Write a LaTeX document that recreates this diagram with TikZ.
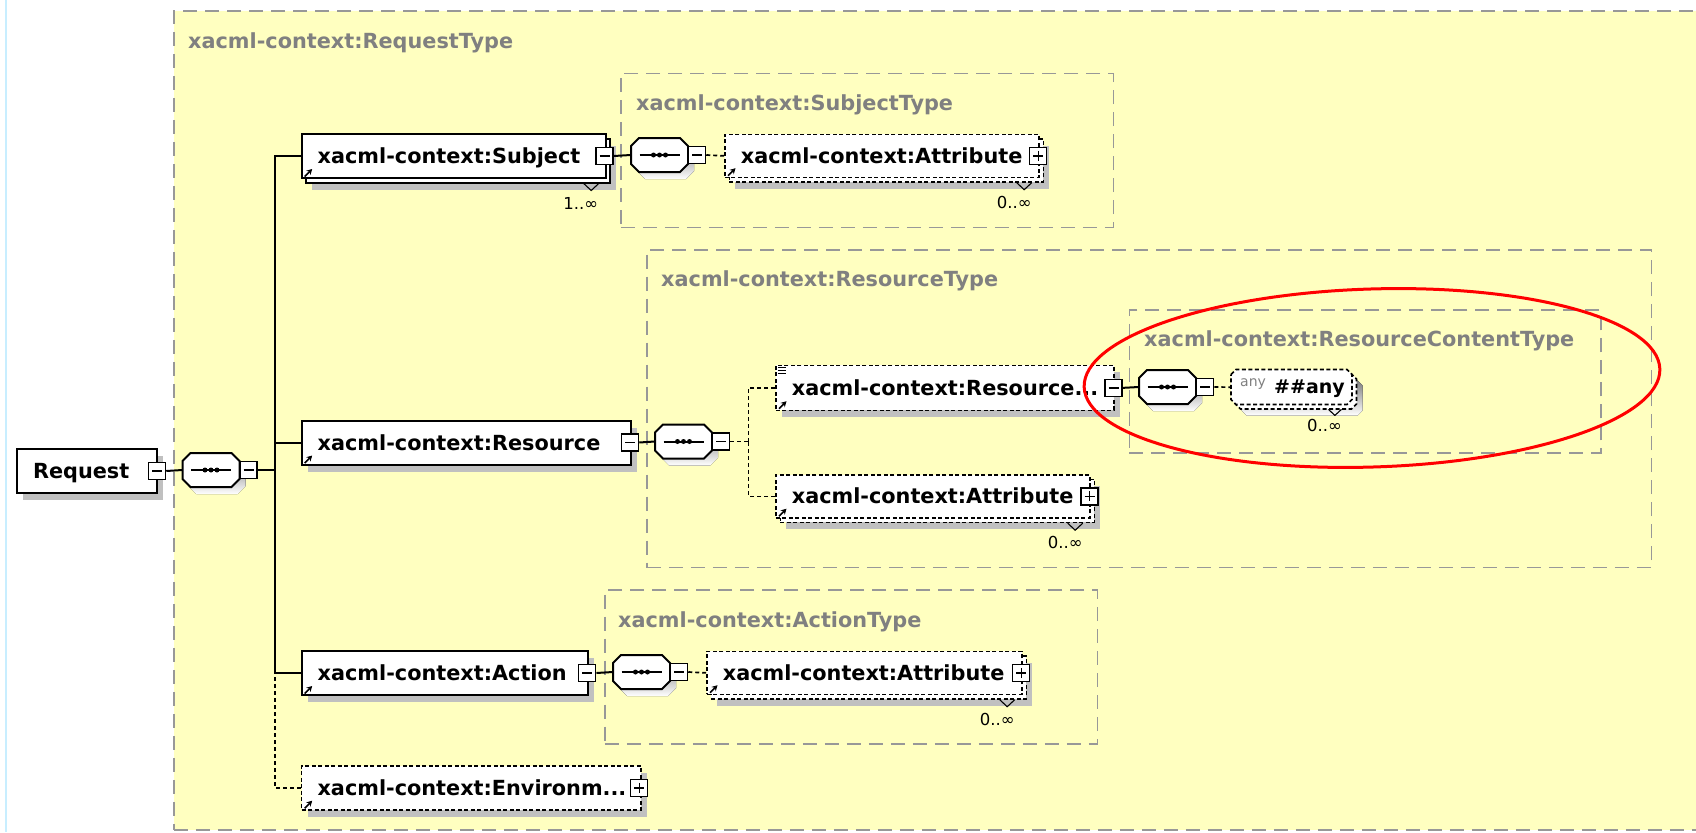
\documentclass[tikz,border=0pt]{standalone}
\usepackage{fontspec}
\setmainfont{DejaVu Sans}
\usetikzlibrary{arrows.meta,shadows}
\hyphenpenalty=10000
\exhyphenpenalty=10000

\definecolor{paper}{RGB}{255,255,192}
\definecolor{frame}{RGB}{152,152,152}
\definecolor{titlegray}{RGB}{128,128,128}
\definecolor{shade}{RGB}{192,192,192}
\definecolor{edgecyan}{RGB}{200,238,255}
\definecolor{ring}{RGB}{255,0,0}

\newcommand{\labelfont}{\bfseries\fontsize{20.8}{24}\selectfont}
\newcommand{\multfont}{\fontsize{16.5}{19}\selectfont}

\tikzset{
  typebox/.style={draw=frame, fill=paper, line width=1.6pt,
    dash pattern=on 14pt off 8pt, inner sep=0pt, anchor=north west},
  typetitle/.style={text=titlegray, font=\labelfont, anchor=west,
    inner sep=0pt, text height=15pt, text depth=0pt},
  elem/.style={draw, line width=2pt, fill=white, anchor=north west,
    inner xsep=16pt, inner ysep=0pt, minimum height=44pt, align=left,
    font=\labelfont, text height=15pt, text depth=0pt},
  optional/.style={line width=1.7pt, dash pattern=on 4pt off 2.5pt},
  shadowed/.style={general shadow={fill=shade, draw=none,
    shadow xshift=6pt, shadow yshift=-7pt}},
  toggle/.style={draw, solid, line width=1.5pt, fill=white, minimum size=17pt, inner sep=0pt},
  togminus/.style={toggle, path picture={\draw[line width=1.4pt]
    ([xshift=3.5pt]path picture bounding box.west) --
    ([xshift=-3.5pt]path picture bounding box.east);}},
  togplus/.style={toggle, path picture={\draw[line width=1.4pt]
    ([xshift=3.5pt]path picture bounding box.west) --
    ([xshift=-3.5pt]path picture bounding box.east)
    ([yshift=-3.5pt]path picture bounding box.north) --
    ([yshift=3.5pt]path picture bounding box.south);}},
  wire/.style={line width=2pt},
  optwire/.style={line width=1.7pt, dash pattern=on 4pt off 3pt},
  refarrow/.style={line width=1.6pt, -{Stealth[length=5.5pt,width=6pt]}},
  chevron/.style={line width=1.1pt},
  mult/.style={font=\multfont, inner sep=0pt},
  seq/.pic={
    \fill[shade, shift={(6,7)}] (-28.5,-9) -- (-20.5,-17) -- (20.5,-17) -- (28.5,-9)
      -- (28.5,9) -- (20.5,17) -- (-20.5,17) -- (-28.5,9) -- cycle;
    \draw[line width=2pt, fill=white] (-28.5,-9) -- (-20.5,-17) -- (20.5,-17) -- (28.5,-9)
      -- (28.5,9) -- (20.5,17) -- (-20.5,17) -- (-28.5,9) -- cycle;
    \node[inner sep=0pt, minimum width=57pt, minimum height=34pt] (-oct) at (0,0) {};
    \draw[line width=2pt] (-20,0) -- (20,0);
    \foreach \p in {-6,0,6} \fill (\p,0) circle [radius=2.5pt];
    \node[togminus] (-tog) at (37.5,0) {};
  }
}

\begin{document}
\begin{tikzpicture}[x=1pt, y=-1pt]
\useasboundingbox (0,0) rectangle (1696,832);
\fill[white] (0,0) rectangle (1696,832);
\draw[edgecyan, line width=2pt] (6,0) -- (6,832);

% complex type frames
\node[typebox, minimum width=1560pt, minimum height=819pt] (reqtype) at (173,10) {};
\node[typetitle] (reqtype-t) at ([shift={(15,31.5)}]reqtype.north west) {xacml-context:RequestType};

\node[typebox, minimum width=492.7pt, minimum height=154pt] (subjtype) at (620,72.7) {};
\node[typetitle] (subjtype-t) at ([shift={(16,30)}]subjtype.north west) {xacml-context:SubjectType};

\node[typebox, minimum width=1004.7pt, minimum height=317.7pt] (restype) at (646,249) {};
\node[typetitle] (restype-t) at ([shift={(15,30)}]restype.north west) {xacml-context:ResourceType};

\node[typebox, minimum width=471.5pt, minimum height=143pt] (rctype) at (1128.5,309) {};
\node[typetitle] (rctype-t) at ([shift={(15.5,30)}]rctype.north west) {xacml-context:ResourceContentType};

\node[typebox, minimum width=492.7pt, minimum height=154pt] (acttype) at (604,589.3) {};
\node[typetitle] (acttype-t) at ([shift={(14,30.5)}]acttype.north west) {xacml-context:ActionType};

% root element
\node[elem, shadowed, text width=108pt] (req) at (16,448) {Request};
\node[togminus] (req-t) at ([shift={(-1,0)}]req.east) {};

% sequence compositors
\pic (s0) at (211,470) {seq};
\pic (s1) at (659.5,155) {seq};
\pic (s2) at (683.5,441.5) {seq};
\pic (s3) at (1167.5,387) {seq};
\pic (s4) at (641.5,672) {seq};

% Subject (1..unbounded)
\node[elem, shadowed, text width=272pt] (subj-back) at (305.2,137.5) {};
\node[elem, text width=272pt] (subj) at (300.7,133) {xacml-context:Subject};
\node[togminus] (subj-t) at ([shift={(-2,0)}]subj.east) {};
\draw[refarrow] ([shift={(4,-2.5)}]subj.south west) -- ++(7.5,-7.5);
\draw[chevron] ([shift={(-23,4.5)}]subj.south east) -- ++(7.5,7) -- ++(7.5,-7);
\node[mult] (subj-m) at ([shift={(-26,24)}]subj.south east) {1..∞};

% Subject attributes
\node[elem, optional, shadowed, text width=282pt, minimum height=43pt] (attr1-back) at (728.5,138) {};
\node[elem, optional, text width=282pt, minimum height=43pt] (attr1) at (724,133.5) {xacml-context:Attribute};
\node[togplus] (attr1-t) at ([shift={(-1.5,0)}]attr1.east) {};
\draw[refarrow] ([shift={(4,-2.5)}]attr1.south west) -- ++(7.5,-7.5);
\draw[chevron] ([shift={(-23,4.5)}]attr1.south east) -- ++(7.5,7) -- ++(7.5,-7);
\node[mult] (attr1-m) at ([shift={(-25.5,24)}]attr1.south east) {0..∞};

% Resource
\node[elem, shadowed, text width=297.3pt] (res) at (300.7,419.5) {xacml-context:Resource};
\node[togminus] (res-t) at ([shift={(-2,0)}]res.east) {};
\draw[refarrow] ([shift={(4,-2.5)}]res.south west) -- ++(7.5,-7.5);

% ResourceContent
\node[elem, optional, shadowed, text width=306pt, minimum height=45pt] (rc) at (775,364.5) {xacml-context:Resource...};
\node[togminus] (rc-t) at ([shift={(-1,0)}]rc.east) {};
\draw[refarrow] ([shift={(4,-2.5)}]rc.south west) -- ++(7.5,-7.5);
\draw[line width=1pt] ([shift={(3,3)}]rc.north west) -- ++(8,0)
  ([shift={(3,6)}]rc.north west) -- ++(8,0)
  ([shift={(3,9)}]rc.north west) -- ++(8,0);

% wildcard ##any
\fill[shade] (1241.5,385.5) -- (1246.5,380.5) -- (1357.5,380.5) -- (1362.5,385.5)
  -- (1362.5,410.5) -- (1357.5,415.5) -- (1246.5,415.5) -- (1241.5,410.5) -- cycle;
\draw[optional, fill=white] (1235.5,379) -- (1240.5,374) -- (1351.5,374) -- (1356.5,379)
  -- (1356.5,404) -- (1351.5,409) -- (1240.5,409) -- (1235.5,404) -- cycle;
\draw[optional, fill=white] (1231,374.5) -- (1236,369.5) -- (1347,369.5) -- (1352,374.5)
  -- (1352,399.5) -- (1347,404.5) -- (1236,404.5) -- (1231,399.5) -- cycle;
\node[inner sep=0pt, minimum width=121pt, minimum height=35pt, anchor=north west] (any) at (1231,369.5) {};
\node[anchor=base west, inner sep=0pt, text=titlegray, font=\fontsize{14}{16}\selectfont] (any-kind) at ([shift={(9,-1)}]any.west) {any};
\node[anchor=base west, inner sep=0pt, font=\bfseries\fontsize{19}{22}\selectfont] (any-name) at ([shift={(43,6)}]any.west) {\#\#any};
\draw[chevron] ([shift={(-24,4.5)}]any.south east) -- ++(6.5,6) -- ++(6.5,-6);
\node[mult] (any-m) at ([shift={(-28,21)}]any.south east) {0..∞};

% Resource attributes
\node[elem, optional, shadowed, text width=282pt, minimum height=43pt] (attr2-back) at (779.5,478.5) {};
\node[elem, optional, text width=282pt, minimum height=43pt] (attr2) at (775,474) {xacml-context:Attribute};
\node[togplus] (attr2-t) at ([shift={(-1,0)}]attr2.east) {};
\draw[refarrow] ([shift={(4,-2.5)}]attr2.south west) -- ++(7.5,-7.5);
\draw[chevron] ([shift={(-23,4.5)}]attr2.south east) -- ++(7.5,7) -- ++(7.5,-7);
\node[mult] (attr2-m) at ([shift={(-25.5,24)}]attr2.south east) {0..∞};

% Action
\node[elem, shadowed, text width=254pt] (act) at (300.7,650) {xacml-context:Action};
\node[togminus] (act-t) at ([shift={(-1.5,0)}]act.east) {};
\draw[refarrow] ([shift={(4,-2.5)}]act.south west) -- ++(7.5,-7.5);

% Action attributes
\node[elem, optional, shadowed, text width=283pt, minimum height=43pt] (attr3-back) at (710.5,655) {};
\node[elem, optional, text width=283pt, minimum height=43pt] (attr3) at (706,650.5) {xacml-context:Attribute};
\node[togplus] (attr3-t) at ([shift={(-1.5,0)}]attr3.east) {};
\draw[refarrow] ([shift={(4,-2.5)}]attr3.south west) -- ++(7.5,-7.5);
\draw[chevron] ([shift={(-23,4.5)}]attr3.south east) -- ++(7.5,7) -- ++(7.5,-7);
\node[mult] (attr3-m) at ([shift={(-25.5,24)}]attr3.south east) {0..∞};

% Environment (optional)
\node[elem, optional, shadowed, text width=307.3pt] (env) at (300.7,765) {xacml-context:Environm...};
\node[togplus] (env-t) at ([shift={(-2.5,0)}]env.east) {};
\draw[refarrow] ([shift={(4,-2.5)}]env.south west) -- ++(7.5,-7.5);

% connectors
\coordinate (bus) at (275,470);
\coordinate (bus2) at (748.5,441.5);
\draw[wire] (req-t.east) -- (s0-oct.west);
\draw[wire] (s0-tog.east) -- (bus);
\draw[wire] (subj.west) -| (bus);
\draw[wire] (res.west) -| (bus);
\draw[wire] (act.west) -| (bus);
\draw[optwire] (env.west) -| (bus |- act.west);
\draw[wire] (subj-t.east) -- (s1-oct.west);
\draw[optwire] (s1-tog.east) -- (attr1.west);
\draw[wire] (res-t.east) -- (s2-oct.west);
\draw[optwire] (s2-tog.east) -- (bus2);
\draw[optwire] (rc.west) -| (bus2);
\draw[optwire] (attr2.west) -| (bus2);
\draw[wire] (rc-t.east) -- (s3-oct.west);
\draw[optwire] (s3-tog.east) -- (any.west);
\draw[wire] (act-t.east) -- (s4-oct.west);
\draw[optwire] (s4-tog.east) -- (attr3.west);

% highlight ring
\draw[ring, line width=3pt, rotate around={1.8:(1372,378)}] (1372,378) ellipse [x radius=288pt, y radius=89pt];
\end{tikzpicture}
\end{document}
